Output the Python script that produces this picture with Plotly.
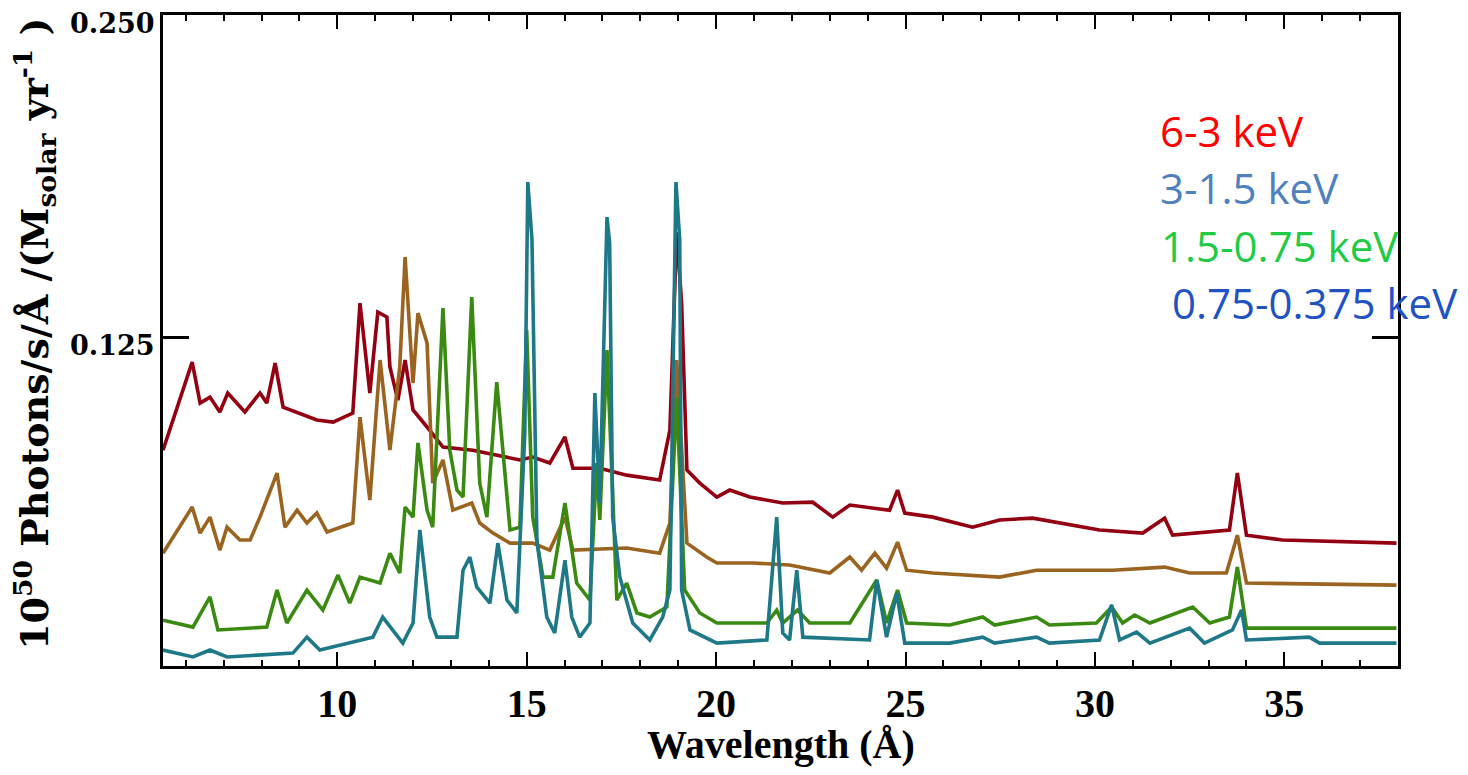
import plotly.graph_objects as go

# ---------------- data ----------------
wl_hard = [5.40, 6.17, 6.38, 6.64, 6.90, 7.11, 7.56, 7.96, 8.14, 8.36, 8.57, 9.01, 9.46, 9.89,
           10.41, 10.60, 10.86, 11.07, 11.31, 11.39, 11.60, 11.79, 12.00, 12.37, 12.79, 13.58,
           14.82, 15.16, 15.61, 16.01, 16.22, 16.93, 17.64, 18.51, 18.78, 18.96, 19.09, 19.23,
           19.57, 20.02, 20.36, 20.89, 21.76, 22.55, 23.08, 23.53, 24.58, 24.79, 24.98, 25.72,
           26.77, 27.48, 28.36, 30.12, 31.26, 31.84, 32.05, 33.55, 33.76, 34.00, 34.95, 37.96]
fx_hard = [0.0811, 0.1153, 0.0994, 0.1017, 0.0959, 0.1033, 0.0959, 0.1033, 0.0994, 0.1149,
           0.0978, 0.0955, 0.0928, 0.0920, 0.0955, 0.1382, 0.1033, 0.1347, 0.1328, 0.1134,
           0.1005, 0.1161, 0.0967, 0.0901, 0.0823, 0.0811, 0.0773, 0.0784, 0.0761, 0.0862,
           0.0741, 0.0741, 0.0714, 0.0695, 0.0889, 0.1657, 0.1382, 0.0734, 0.0683, 0.0629,
           0.0656, 0.0629, 0.0606, 0.0609, 0.0551, 0.0598, 0.0578, 0.0656, 0.0567, 0.0551,
           0.0512, 0.0540, 0.0547, 0.0501, 0.0489, 0.0547, 0.0481, 0.0501, 0.0722, 0.0481,
           0.0462, 0.0450]

wl_med = [5.40, 6.17, 6.38, 6.64, 6.90, 7.09, 7.43, 7.70, 7.96, 8.41, 8.62, 8.94, 9.20, 9.46,
          9.73, 10.41, 10.60, 10.86, 11.13, 11.39, 11.65, 11.79, 12.00, 12.13, 12.37, 12.52,
          12.79, 13.05, 13.55, 13.76, 14.11, 14.56, 15.16, 15.61, 16.01, 16.22, 17.64, 18.51,
          18.78, 18.96, 19.23, 19.75, 20.02, 20.97, 21.94, 23.00, 23.53, 23.84, 24.19, 24.50,
          24.79, 25.03, 25.72, 27.48, 28.46, 30.47, 31.84, 32.50, 33.47, 33.76, 34.00, 37.96]
fx_med = [0.0411, 0.0590, 0.0489, 0.0551, 0.0423, 0.0512, 0.0462, 0.0462, 0.0551, 0.0722,
          0.0512, 0.0578, 0.0528, 0.0567, 0.0493, 0.0528, 0.0939, 0.0617, 0.1161, 0.0811,
          0.1134, 0.1561, 0.1071, 0.1343, 0.1227, 0.0683, 0.0773, 0.0578, 0.0606, 0.0528,
          0.0489, 0.0450, 0.0450, 0.0423, 0.0551, 0.0423, 0.0431, 0.0411, 0.0528, 0.1161,
          0.0450, 0.0396, 0.0373, 0.0373, 0.0365, 0.0334, 0.0396, 0.0345, 0.0411, 0.0353,
          0.0454, 0.0345, 0.0334, 0.0318, 0.0345, 0.0345, 0.0357, 0.0334, 0.0334, 0.0481,
          0.0295, 0.0287]

wl_soft = [5.40, 6.19, 6.64, 6.85, 8.14, 8.41, 8.67, 9.20, 9.62, 10.02, 10.33, 10.60, 11.13,
           11.39, 11.65, 11.79, 12.00, 12.13, 12.37, 12.52, 12.79, 12.97, 13.16, 13.32, 13.55,
           13.76, 13.95, 14.21, 14.56, 14.82, 15.00, 15.16, 15.43, 15.69, 16.01, 16.32, 16.67,
           16.85, 16.93, 17.12, 17.38, 17.64, 17.91, 18.25, 18.70, 18.96, 19.17, 19.57, 20.02,
           21.34, 21.60, 21.76, 22.15, 22.47, 23.53, 24.24, 24.50, 24.79, 25.03, 26.17, 27.04,
           27.35, 28.46, 28.80, 30.04, 30.44, 30.73, 31.05, 31.45, 32.58, 33.03, 33.55, 33.76,
           34.00, 37.96]
fx_soft = [0.0151, 0.0124, 0.0241, 0.0113, 0.0124, 0.0268, 0.0140, 0.0268, 0.0190, 0.0326,
           0.0217, 0.0318, 0.0295, 0.0411, 0.0334, 0.0590, 0.0551, 0.0839, 0.0578, 0.0512,
           0.1363, 0.0811, 0.0656, 0.0629, 0.1405, 0.0683, 0.0551, 0.1075, 0.0501, 0.0512,
           0.1277, 0.0551, 0.0318, 0.0318, 0.0606, 0.0295, 0.0229, 0.0761, 0.0540, 0.1200,
           0.0229, 0.0295, 0.0179, 0.0163, 0.0202, 0.1017, 0.0268, 0.0179, 0.0140, 0.0140,
           0.0190, 0.0140, 0.0190, 0.0140, 0.0140, 0.0307, 0.0140, 0.0268, 0.0140, 0.0132,
           0.0163, 0.0132, 0.0163, 0.0132, 0.0140, 0.0202, 0.0140, 0.0171, 0.0140, 0.0202,
           0.0140, 0.0163, 0.0357, 0.0120, 0.0120]

wl_vsoft = [5.40, 6.19, 6.64, 7.09, 8.83, 9.20, 9.54, 10.25, 10.94, 11.20, 11.47, 11.73, 12.00,
            12.18, 12.44, 12.63, 13.16, 13.32, 13.50, 13.68, 14.03, 14.24, 14.48, 14.74, 14.95,
            15.03, 15.14, 15.27, 15.53, 15.74, 16.01, 16.19, 16.40, 16.67, 16.80, 16.93, 17.12,
            17.19, 17.27, 17.46, 17.80, 18.25, 18.59, 18.78, 18.94, 19.04, 19.09, 19.31, 20.02,
            21.34, 21.60, 21.76, 21.94, 22.13, 22.29, 24.05, 24.24, 24.50, 24.77, 24.98, 26.17,
            27.04, 27.35, 28.46, 28.80, 30.12, 30.44, 30.65, 31.10, 31.45, 32.50, 32.89, 33.63,
            33.87, 34.00, 35.66, 35.93, 37.96]
fx_vsoft = [0.0035, 0.0008, 0.0035, 0.0008, 0.0023, 0.0085, 0.0035, 0.0062, 0.0085, 0.0163,
            0.0113, 0.0062, 0.0140, 0.0501, 0.0163, 0.0085, 0.0085, 0.0345, 0.0396, 0.0280,
            0.0217, 0.0450, 0.0229, 0.0179, 0.0877, 0.1852, 0.1627, 0.0462, 0.0163, 0.0101,
            0.0384, 0.0163, 0.0085, 0.0140, 0.1033, 0.0606, 0.1716, 0.1615, 0.0551, 0.0318,
            0.0140, 0.0074, 0.0163, 0.0268, 0.1852, 0.1627, 0.0268, 0.0113, 0.0062, 0.0074,
            0.0551, 0.0101, 0.0074, 0.0345, 0.0085, 0.0074, 0.0307, 0.0085, 0.0256, 0.0062,
            0.0062, 0.0085, 0.0062, 0.0085, 0.0062, 0.0074, 0.0210, 0.0074, 0.0105, 0.0062,
            0.0120, 0.0062, 0.0113, 0.0190, 0.0074, 0.0085, 0.0062, 0.0062]

band_labels = ["6-3 keV", "3-1.5 keV", "1.5-0.75 keV", " 0.75-0.375 keV"]
label_colors = ["#FF0000", "#4F81BD", "#1FCB45", "#2152C4"]
line_colors = ["#930012", "#9A6420", "#3A8A12", "#1E7888"]

x_ticks = [10, 15, 20, 25, 30, 35]
y_ticks = [0.125, 0.250]
y_tick_text = ["0.125", "0.250"]

# ---------------- figure ----------------
# The page body adds an 8 px margin, so the figure is 16 px smaller than the window
W, H = 1452, 759
ML, MT, PW, PH = 155, 7, 1235, 651

fig = go.Figure()
series = [(wl_hard, fx_hard), (wl_med, fx_med), (wl_soft, fx_soft), (wl_vsoft, fx_vsoft)]
for (wl, fx), col, name in zip(series, line_colors, band_labels):
    fig.add_trace(go.Scatter(x=wl, y=fx, mode="lines", name=name.strip(),
                             line=dict(color=col, width=3.6), showlegend=False))

serif = "Liberation Serif"
fig.update_layout(
    width=W, height=H,
    margin=dict(l=ML, r=W - ML - PW, t=MT, b=H - MT - PH, autoexpand=False),
    paper_bgcolor="white", plot_bgcolor="white",
    xaxis=dict(range=[5.4, 38.0], tickvals=x_ticks, ticks="inside", ticklen=14, tickwidth=2,
               tickcolor="black", showline=True, linecolor="black", linewidth=3, mirror="allticks",
               showgrid=False, zeroline=False, ticklabelstandoff=0, automargin=False,
               tickfont=dict(family=serif, size=40, color="black", weight="bold"),
               minor=dict(dtick=1, tick0=0, ticks="inside", ticklen=6, tickwidth=2, tickcolor="black",
                          showgrid=False)),
    yaxis=dict(range=[-0.0027, 0.25005], tickvals=y_ticks, ticktext=y_tick_text, ticks="inside",
               ticklen=26, tickwidth=3, tickcolor="black", showline=True, linecolor="black",
               linewidth=3, mirror="allticks", showgrid=False, zeroline=False, automargin=False,
               ticklabeloverflow="allow", ticklabelshift=8,
               tickfont=dict(family="DejaVu Serif", size=27, color="black", weight="bold")),
)

# x-axis title
fig.add_annotation(text="Wavelength (Å)", xref="paper", yref="paper",
                   x=0.5, y=(666 - 744) / PH, showarrow=False,
                   xanchor="center", yanchor="middle",
                   font=dict(family=serif, size=40, color="black", weight="bold"))

# y-axis title
fig.add_annotation(text="10<sup>50</sup> Photons/s/Å /(M<sub>solar</sub> yr<sup>-1</sup> )",
                   xref="paper", yref="paper", x=(34 - 163) / PW, y=(666 - 334) / PH, textangle=-90,
                   showarrow=False, xanchor="center", yanchor="middle",
                   font=dict(family="DejaVu Serif", size=38, color="black", weight="bold"))

label_y_px = [130, 187, 245, 302]
label_x_px = [1158, 1158, 1159, 1159]
for txt, col, yp, xp in zip(band_labels, label_colors, label_y_px, label_x_px):
    fig.add_annotation(text=txt.replace(" ", "&nbsp;", 1) if txt.startswith(" ") else txt,
                       xref="paper", yref="paper",
                       x=(xp - 163) / PW, y=(666 - yp) / PH, showarrow=False,
                       xanchor="left", yanchor="middle",
                       font=dict(family="Open Sans", size=42, color=col))

fig.write_html("out.html")
